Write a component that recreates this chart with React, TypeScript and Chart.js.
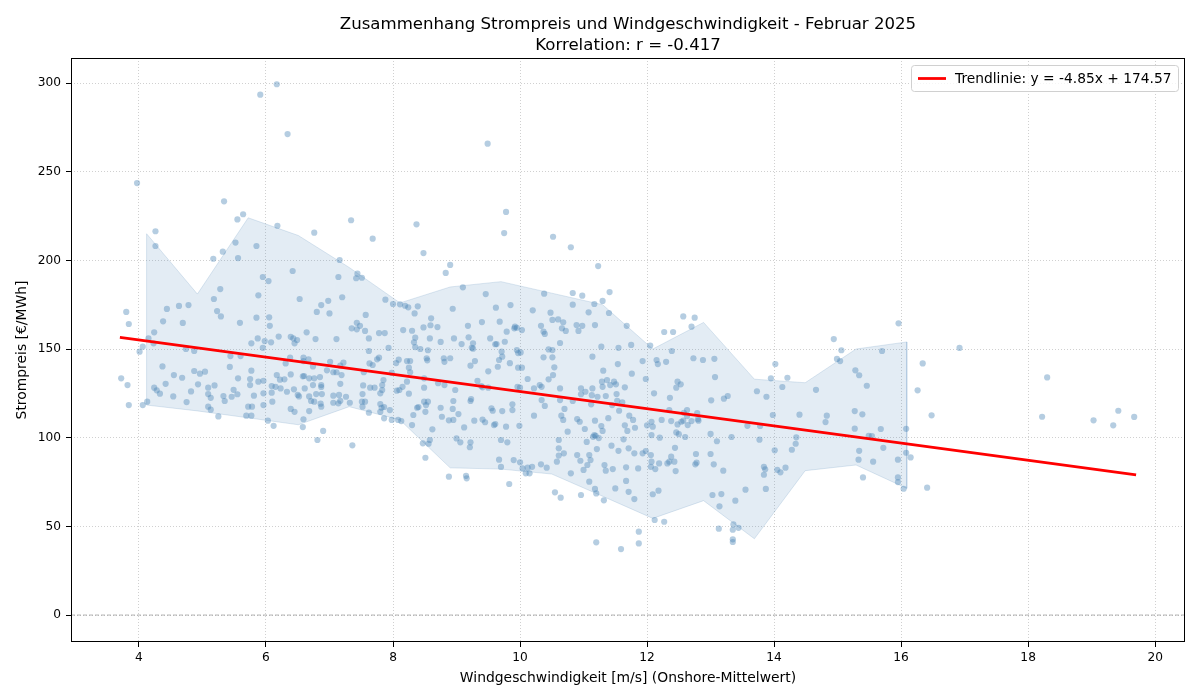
import { useEffect, useRef } from "react";
import { Chart, registerables } from "chart.js";

Chart.register(...registerables);

// Hourly observations: [wind speed m/s, price €/MWh], grouped by wind-speed range
const calmHours: [number, number][] = [
  [3.97, 243.6], [5.91, 293.4], [6.17, 299.3], [6.34, 271.2], [5.34, 233.3], [5.64, 226.0], [5.55, 223.1],
  [4.26, 216.4], [4.26, 208.1], [6.18, 219.5], [5.52, 210.0], [5.85, 208.1], [5.32, 204.9], [5.17, 200.9],
  [5.56, 201.3], [6.42, 194.0], [5.95, 190.6], [6.04, 188.3], [5.28, 183.8], [5.18, 178.2], [5.88, 180.3],
  [6.53, 178.2], [3.80, 170.9], [3.84, 164.1], [4.44, 172.6], [4.63, 174.3], [4.78, 174.8], [4.38, 165.6],
  [4.69, 164.7], [5.23, 171.4], [5.29, 168.4], [5.59, 164.8], [5.85, 167.7], [6.05, 167.9], [6.06, 163.1],
  [4.15, 156.0], [4.06, 151.3], [4.01, 148.5], [4.23, 153.2], [4.24, 159.4], [3.72, 133.5], [3.82, 129.7],
  [3.84, 118.4], [4.06, 118.4], [4.13, 120.3], [4.37, 140.2], [4.42, 130.4], [4.24, 128.2], [4.28, 126.7],
  [4.33, 124.8], [4.54, 123.3], [4.55, 135.3], [4.68, 133.8], [4.75, 120.1], [4.74, 150.0], [4.87, 148.9],
  [4.82, 126.1], [4.87, 137.6], [4.96, 136.1], [5.04, 137.2], [4.93, 130.1], [5.09, 128.2], [5.13, 122.5],
  [5.09, 124.6], [5.19, 129.5], [5.09, 117.5], [5.13, 115.8], [5.25, 112.0], [5.33, 123.5], [5.35, 120.7],
  [5.49, 127.0], [5.46, 123.1], [5.55, 124.5], [5.43, 139.9], [5.44, 146.0], [5.56, 133.5], [5.60, 146.0],
  [5.75, 133.1], [5.77, 137.8], [5.75, 129.7], [5.81, 123.7], [5.78, 117.5], [5.72, 117.5], [5.69, 112.4],
  [5.77, 112.4], [5.77, 153.2], [5.87, 156.0], [5.95, 150.7], [5.98, 154.5], [6.08, 153.8], [5.88, 131.6],
  [5.96, 132.1], [5.96, 125.0], [6.09, 129.1], [6.09, 125.4], [5.96, 118.4], [6.10, 120.3], [6.03, 109.6],
  [6.12, 106.7], [6.17, 135.3], [6.15, 128.7], [6.22, 132.7], [6.23, 127.8], [6.29, 132.9], [6.31, 141.9],
  [6.38, 145.1], [6.39, 135.7], [6.33, 125.9], [6.44, 127.3], [6.39, 116.2], [6.45, 114.6], [6.43, 156.0],
  [6.49, 155.1], [6.39, 156.9], [6.45, 153.2], [6.20, 157.0], [6.50, 124.1], [6.52, 123.3], [6.58, 134.6],
  [6.59, 110.4], [6.58, 106.0], [6.59, 145.1],
];

const moderateHours: [number, number][] = [
  [9.49, 265.8], [7.34, 222.6], [8.37, 220.3], [6.76, 215.6], [7.68, 212.2], [8.48, 204.1], [8.90, 197.4],
  [8.83, 192.9], [7.16, 200.2], [7.14, 190.6], [7.44, 192.5], [7.42, 189.9], [7.51, 190.2], [9.10, 184.8],
  [7.20, 179.2], [6.87, 174.8], [6.98, 177.2], [6.80, 170.9], [7.00, 170.1], [7.57, 169.2], [7.88, 177.8],
  [8.00, 175.4], [8.11, 175.2], [8.19, 174.4], [8.24, 173.5], [8.39, 174.1], [8.34, 170.1], [8.60, 167.3],
  [8.59, 163.4], [8.70, 162.4], [8.94, 172.7], [9.46, 181.0], [9.62, 173.3], [9.40, 165.2], [9.18, 163.1],
  [9.68, 165.4], [7.43, 164.8], [7.48, 163.1], [7.35, 161.7], [8.16, 160.7], [8.48, 162.2],
  [6.64, 159.4], [6.78, 155.6], [7.43, 161.1], [7.56, 160.2], [7.11, 155.6], [7.62, 156.0], [7.78, 159.0],
  [7.87, 159.0], [7.93, 150.6], [8.30, 160.3], [8.35, 156.4], [8.33, 153.8], [8.35, 151.1], [8.43, 150.0],
  [8.55, 149.3], [8.58, 156.0], [8.75, 154.0], [8.96, 156.0], [9.08, 152.8], [9.19, 156.6], [9.26, 153.2],
  [9.26, 150.2], [9.63, 152.8], [7.62, 148.9], [7.75, 144.2], [7.78, 145.1], [7.63, 141.9], [7.68, 141.0],
  [7.54, 136.9], [7.22, 142.3], [7.17, 140.6], [7.01, 142.8], [6.96, 138.0], [7.06, 136.9], [7.11, 136.9],
  [7.19, 135.3], [6.74, 140.2], [6.67, 144.2], [6.59, 143.2], [6.60, 134.8], [6.68, 133.5], [6.76, 133.5],
  [6.85, 134.2], [6.87, 129.7], [6.87, 128.6], [6.74, 129.7], [6.61, 127.8], [6.68, 123.3], [6.71, 120.7],
  [6.79, 124.6], [6.88, 124.6], [6.86, 119.2], [6.87, 117.5], [6.76, 120.3], [6.68, 115.0], [7.06, 123.7],
  [7.15, 124.1], [7.06, 119.7], [7.14, 119.4], [7.17, 120.8], [7.26, 123.1], [7.32, 119.7], [7.17, 130.4],
  [7.51, 120.3], [7.52, 117.5], [7.56, 120.3], [7.52, 124.6], [7.53, 129.5], [7.62, 114.1], [7.64, 128.2],
  [7.71, 128.2], [7.80, 125.0], [7.83, 129.7], [7.85, 132.5], [7.83, 126.9], [7.80, 119.0], [7.82, 116.9],
  [7.80, 114.6], [7.86, 117.3], [7.95, 115.6], [7.86, 110.9], [7.98, 110.0], [8.08, 110.0], [8.13, 109.4],
  [7.98, 136.6], [8.05, 142.1], [8.09, 144.0], [8.22, 143.2], [8.27, 143.2], [8.25, 139.5], [8.27, 136.9],
  [8.22, 131.6], [8.15, 128.7], [8.06, 126.5], [8.10, 126.9], [8.25, 124.8], [8.49, 128.2], [8.40, 117.3],
  [8.32, 112.8], [8.30, 107.1], [8.38, 116.9], [8.49, 120.3], [8.55, 120.3], [8.52, 118.4], [8.51, 114.6],
  [8.62, 104.7], [8.47, 96.8], [8.56, 96.6], [8.58, 98.7], [8.51, 88.7], [8.49, 133.5], [8.53, 144.8],
  [8.54, 143.6], [8.71, 130.7], [8.80, 144.8], [8.81, 142.8], [8.90, 144.8], [8.81, 129.7], [8.75, 116.9],
  [8.77, 111.8], [8.88, 109.8], [8.95, 110.0], [8.98, 126.9], [8.95, 120.7], [8.94, 116.2], [9.03, 113.3],
  [9.12, 105.8], [9.00, 99.6], [9.06, 97.4], [8.88, 78.0], [9.16, 77.1], [9.22, 97.4], [9.21, 94.6],
  [9.22, 120.7], [9.23, 121.8], [9.28, 109.6], [9.33, 132.0], [9.41, 128.4], [9.39, 129.1], [9.55, 116.6],
  [9.57, 115.2], [9.59, 107.1], [9.45, 108.7], [9.50, 137.4], [9.50, 128.2], [9.67, 143.8], [9.22, 140.6],
  [9.24, 150.7], [9.29, 143.2], [9.67, 87.6], [6.81, 98.7], [6.90, 103.8], [7.36, 95.7], [9.15, 78.5],
  [9.41, 110.2], [9.53, 156.0],
];

const freshHours: [number, number][] = [
  [9.78, 227.3], [9.75, 215.4], [10.52, 213.3], [10.80, 207.4], [11.23, 196.8], [10.38, 181.2], [10.83, 181.6],
  [10.98, 180.1], [11.41, 182.1], [9.85, 174.8], [10.83, 175.0], [11.17, 175.4], [11.30, 177.1], [10.20, 171.8],
  [10.48, 170.5], [11.08, 170.7], [11.40, 170.3], [10.51, 166.4], [10.60, 166.7], [10.68, 165.1], [10.33, 163.1],
  [10.89, 163.5], [10.98, 163.1], [11.18, 163.5], [11.68, 163.1], [12.57, 168.4], [12.70, 162.6], [12.75, 167.7],
  [9.92, 162.6],
  [9.79, 159.8], [9.91, 161.7], [9.95, 162.0], [10.03, 160.7], [10.37, 159.8], [10.66, 161.7], [10.72, 160.2],
  [10.92, 160.2], [9.61, 152.7], [9.76, 154.1], [9.71, 148.5], [9.72, 145.7], [9.84, 142.0], [9.65, 140.0],
  [9.95, 149.4], [10.01, 148.1], [9.97, 147.7], [9.97, 139.5], [10.03, 139.5], [10.12, 133.1], [9.96, 128.7],
  [10.00, 128.2], [10.22, 127.8], [10.31, 129.7], [10.34, 128.7], [10.37, 145.3], [10.45, 149.8], [10.51, 149.4],
  [10.51, 145.3], [10.54, 139.7], [10.52, 135.3], [10.45, 132.9], [10.63, 153.4], [10.63, 127.8], [10.70, 116.2],
  [10.65, 112.4], [10.63, 121.2], [10.34, 121.2], [10.39, 117.9], [10.22, 112.4], [9.88, 118.8], [9.88, 115.6],
  [9.72, 115.0], [9.61, 107.7], [9.78, 106.2], [9.99, 106.7], [9.70, 98.7], [9.80, 97.4], [9.70, 83.5],
  [9.90, 87.4], [10.00, 86.1], [10.04, 82.7], [10.12, 83.1], [10.09, 79.9], [10.15, 79.9], [10.19, 83.6],
  [9.83, 73.9], [10.33, 85.0], [10.42, 83.1], [10.55, 69.2], [10.64, 66.2], [10.58, 86.5], [10.61, 89.9],
  [10.69, 91.2], [10.61, 94.0], [10.61, 98.7], [10.75, 103.4], [10.80, 79.9], [10.90, 90.2], [10.95, 87.0],
  [11.00, 81.8], [11.06, 84.6], [11.11, 87.4], [11.09, 90.2], [11.15, 100.5], [11.17, 101.5], [11.21, 93.6],
  [10.90, 110.5], [10.94, 109.0], [11.09, 75.2], [11.18, 71.1], [11.20, 68.6], [10.96, 67.7], [11.32, 64.7],
  [11.20, 41.0], [11.59, 37.2], [11.87, 40.4], [11.87, 47.0], [11.33, 84.6], [11.35, 81.4], [11.44, 95.5],
  [11.50, 71.4], [11.55, 92.6], [11.67, 83.3], [11.67, 75.6], [11.71, 69.5], [11.80, 65.4], [11.71, 94.0],
  [11.86, 82.7], [11.80, 91.2], [11.93, 91.2], [11.98, 92.5], [12.06, 90.2], [12.07, 86.5], [12.06, 83.6],
  [12.13, 82.3], [12.09, 68.1], [12.18, 70.1], [12.12, 53.6], [12.27, 52.6], [12.19, 85.5], [12.32, 85.5],
  [12.35, 86.5], [12.45, 81.2], [12.38, 89.3], [11.02, 104.9],
  [11.14, 145.7], [11.28, 151.3], [11.31, 137.8], [11.29, 131.6], [11.30, 128.7], [11.14, 127.8], [10.96, 127.8],
  [11.03, 125.9], [10.96, 124.5], [11.22, 123.1], [11.12, 118.8], [11.18, 109.6], [11.28, 106.6], [11.30, 103.8],
  [11.19, 101.1], [11.42, 129.7], [11.51, 130.1], [11.48, 131.6], [11.52, 124.6], [11.53, 120.8], [11.56, 115.2],
  [11.65, 128.4], [11.76, 136.1], [11.75, 152.3], [11.55, 150.7], [11.63, 99.1], [11.69, 103.8], [11.72, 112.4],
  [11.78, 110.0], [11.81, 105.6], [11.93, 143.2], [11.98, 133.1], [12.11, 125.0], [12.15, 143.8], [12.17, 141.5],
  [12.30, 142.8], [12.39, 148.9], [12.48, 131.6], [12.46, 128.2], [12.53, 130.1], [12.36, 122.5], [12.35, 115.6],
  [12.07, 109.0], [12.09, 106.2], [12.23, 110.0], [12.20, 100.0], [12.07, 101.5], [12.38, 109.4], [12.48, 107.5],
  [12.54, 109.0], [12.64, 107.1], [12.57, 109.6], [12.46, 103.0], [12.44, 94.3], [12.43, 86.5], [12.73, 144.8],
  [12.63, 115.6], [12.70, 109.4], [10.68, 110.0], [10.83, 120.7], [11.35, 123.5], [11.37, 132.5], [11.39, 111.0],
  [11.45, 118.4], [11.61, 120.0], [12.00, 107.0], [12.05, 152.0], [12.27, 159.6], [12.41, 159.6], [12.50, 102.0],
  [12.58, 114.0], [12.60, 100.4], [12.63, 112.2], [10.39, 158.5], [11.05, 97.6], [11.13, 124.0], [11.24, 99.8],
  [11.46, 82.3], [11.54, 141.5], [11.65, 107.0],
];

const strongHours: [number, number][] = [
  [14.94, 155.6], [15.06, 149.3], [14.99, 144.4], [15.04, 143.2], [12.88, 143.8], [13.06, 144.5], [14.02, 141.5],
  [13.95, 133.5], [14.21, 133.8], [13.07, 134.2], [14.13, 128.6], [14.66, 127.0], [15.28, 138.0], [15.34, 135.2],
  [15.46, 129.3], [15.70, 148.9], [13.01, 121.1], [13.21, 122.0], [13.27, 123.5], [13.73, 126.2], [13.88, 123.1],
  [13.98, 112.8], [14.40, 113.0], [14.83, 112.4], [14.81, 108.8], [15.27, 115.0], [15.39, 113.2], [15.27, 105.1],
  [15.68, 104.9], [15.49, 101.1], [15.54, 100.9], [15.72, 94.3], [15.34, 92.6], [15.33, 87.6], [15.56, 86.5],
  [15.40, 77.6], [14.35, 100.2], [14.34, 96.6], [14.28, 93.2], [14.01, 92.9], [14.18, 83.1], [14.05, 81.9],
  [14.10, 80.5], [13.84, 83.6], [13.86, 82.2], [13.84, 79.1], [13.87, 71.1], [13.55, 70.7], [13.78, 106.6],
  [13.77, 98.9], [13.58, 106.7], [13.33, 100.4], [13.10, 98.0], [13.00, 102.1], [12.79, 113.9], [12.80, 110.4],
  [12.81, 109.6], [12.77, 90.8], [12.78, 85.9], [12.76, 85.0], [13.00, 90.8], [13.05, 85.0], [13.20, 81.4],
  [13.03, 67.7], [13.17, 68.2], [13.14, 61.3], [13.39, 64.5], [13.36, 51.1], [13.44, 49.2], [13.35, 48.1],
  [13.13, 48.7], [13.35, 42.7], [13.35, 41.2],
  [15.96, 164.5], [16.34, 141.9], [16.26, 126.7], [16.48, 112.6], [16.08, 105.0], [16.08, 91.5], [15.95, 87.6],
  [16.15, 88.9], [15.95, 77.6], [15.95, 75.0], [16.04, 71.2], [16.41, 71.8], [16.92, 150.6], [18.30, 134.0],
  [18.22, 111.8], [19.03, 109.8], [19.42, 115.2], [19.34, 107.0], [19.67, 111.7],
];

// Binned spread of prices (band between lower and upper percentile)
const bandX = [4.12, 4.92, 5.72, 6.51, 7.31, 8.11, 8.9, 9.7, 10.5, 11.3, 12.09, 12.89, 13.69, 14.49, 15.29, 16.09];
const bandUpper = [215, 181, 224, 214, 196, 176, 185, 188, 181.5, 175, 150, 165, 133, 131, 150, 154];
const bandLower = [118.4, 115.1, 111.2, 107.3, 117.5, 110, 83, 82.3, 79.5, 67, 54.5, 64.5, 43, 81.4, 84.6, 71.4];

// Linear fit
const trendSlope = -4.85;
const trendIntercept = 174.57;
const trendX = [3.7, 19.7];

// Axes
const xTicks = [4, 6, 8, 10, 12, 14, 16, 18, 20];
const yTicks = [0, 50, 100, 150, 200, 250, 300];
const xRange = [2.93, 20.47];
const yRange = [-15.2, 314.1];

const titleLines = ["Zusammenhang Strompreis und Windgeschwindigkeit - Februar 2025", "Korrelation: r = -0.417"];
const xLabel = "Windgeschwindigkeit [m/s] (Onshore-Mittelwert)";
const yLabel = "Strompreis [€/MWh]";
const trendLabel = `Trendlinie: y = ${trendSlope.toFixed(2)}x + ${trendIntercept.toFixed(2)}`;

const FONT = "'DejaVu Sans', 'Liberation Sans', sans-serif";

const decorations = {
  id: "decorations",
  afterDraw(chart: any) {
    const { ctx, chartArea } = chart;
    const { left, right, top, bottom } = chartArea;
    ctx.save();
    // axes frame
    ctx.strokeStyle = "#000";
    ctx.lineWidth = 1;
    ctx.strokeRect(left + 0.5, top + 0.5, right - left - 1, bottom - top - 1);

    // titles
    ctx.fillStyle = "#000";
    ctx.textAlign = "center";
    ctx.textBaseline = "alphabetic";
    ctx.font = `16.6px ${FONT}`;
    const cx = (left + right) / 2;
    ctx.fillText(titleLines[0], cx, 29);
    ctx.fillText(titleLines[1], cx, 50);

    ctx.font = `13.9px ${FONT}`;
    ctx.fillText(xLabel, cx, 682);
    ctx.save();
    ctx.translate(26, (top + bottom) / 2);
    ctx.rotate(-Math.PI / 2);
    ctx.fillText(yLabel, 0, 0);
    ctx.restore();

    // legend
    const bx = 911, by = 65, bw = 267, bh = 26;
    ctx.beginPath();
    ctx.roundRect(bx + 0.5, by + 0.5, bw, bh, 3);
    ctx.fillStyle = "rgba(255,255,255,0.8)";
    ctx.fill();
    ctx.strokeStyle = "#d0d0d0";
    ctx.lineWidth = 1;
    ctx.stroke();
    ctx.beginPath();
    ctx.moveTo(918, by + bh / 2 + 0.5);
    ctx.lineTo(946, by + bh / 2 + 0.5);
    ctx.strokeStyle = "red";
    ctx.lineWidth = 2.8;
    ctx.stroke();
    ctx.fillStyle = "#000";
    ctx.textAlign = "left";
    ctx.textBaseline = "middle";
    ctx.font = `13.8px ${FONT}`;
    ctx.fillText(trendLabel, 955, by + bh / 2 + 1);
    ctx.restore();
  },
};

export default function App() {
  const canvasRef = useRef<HTMLCanvasElement | null>(null);

  useEffect(() => {
    const canvas = canvasRef.current;
    if (!canvas) return;

    const observations = [...calmHours, ...moderateHours, ...freshHours, ...strongHours].map(([x, y]) => ({ x, y }));

    const upper = bandX.map((x, i) => ({ x, y: bandUpper[i] }));
    const lower = bandX.map((x, i) => ({ x, y: bandLower[i] })).reverse();
    const bandPolygon = [...upper, ...lower, upper[0]];

    const trend = trendX.map((x) => ({ x, y: trendSlope * x + trendIntercept }));
    const zeroLine = xRange.map((x) => ({ x, y: 0 }));

    const tickFont = { family: FONT, size: 12.2 };
    const gridOpts = {
      color: "rgba(170,170,170,0.55)",
      lineWidth: 1,
      drawTicks: true,
      tickLength: 5,
      tickColor: "#000",
      tickWidth: 1,
      tickBorderDash: [],
    };

    const chart = new Chart(canvas, {
      type: "scatter",
      data: {
        datasets: [
          {
            type: "line",
            label: "Trend",
            data: trend,
            borderColor: "red",
            borderWidth: 2.8,
            pointRadius: 0,
            fill: false,
            order: 0,
          } as any,
          {
            type: "line",
            label: "Null",
            data: zeroLine,
            borderColor: "rgba(128,128,128,0.6)",
            borderWidth: 1,
            borderDash: [4, 2],
            pointRadius: 0,
            fill: false,
            order: 3,
          } as any,
          {
            label: "Stunden",
            data: observations,
            backgroundColor: "rgba(70,130,180,0.4)",
            borderWidth: 0,
            pointRadius: 3.1,
            order: 1,
          },
          {
            type: "line",
            label: "Band",
            data: bandPolygon,
            borderColor: "rgba(70,130,180,0.18)",
            backgroundColor: "rgba(70,130,180,0.15)",
            borderWidth: 1,
            pointRadius: 0,
            fill: "shape",
            tension: 0,
            order: 2,
          } as any,
        ],
      },
      options: {
        responsive: false,
        animation: false,
        events: [],
        layout: { padding: { top: 58, right: 15, bottom: 0, left: 0 } },
        plugins: {
          legend: { display: false },
          title: { display: false },
          tooltip: { enabled: false },
        },
        scales: {
          x: {
            type: "linear",
            min: xRange[0],
            max: xRange[1],
            afterBuildTicks: (scale: any) => {
              scale.ticks = xTicks.map((value) => ({ value }));
            },
            afterFit: (scale: any) => {
              scale.height = 58;
            },
            ticks: { font: tickFont, color: "#000", padding: 4, maxRotation: 0, autoSkip: false },
            grid: gridOpts,
            border: { display: false, dash: [1, 2] },
          },
          y: {
            type: "linear",
            min: yRange[0],
            max: yRange[1],
            afterBuildTicks: (scale: any) => {
              scale.ticks = yTicks.map((value) => ({ value }));
            },
            afterFit: (scale: any) => {
              scale.width = 71;
            },
            ticks: { font: tickFont, color: "#000", padding: 5, autoSkip: false },
            grid: gridOpts,
            border: { display: false, dash: [1, 2] },
          },
        },
      },
      plugins: [decorations],
    });

    return () => chart.destroy();
  }, []);

  return (
    <div style={{ position: "fixed", left: 0, top: 0, width: 1200, height: 700, background: "#fff" }}>
      <canvas ref={canvasRef} width={1200} height={700} style={{ display: "block" }} />
    </div>
  );
}
